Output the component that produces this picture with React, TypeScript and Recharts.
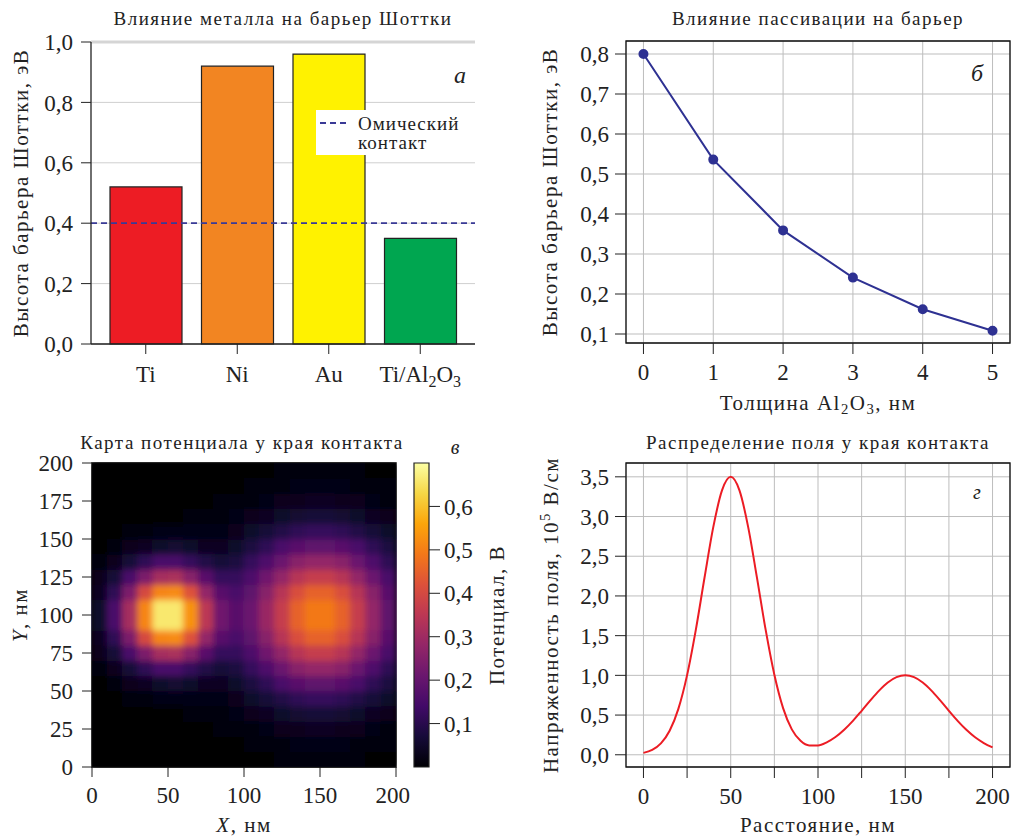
import React from "react";
import {
  BarChart,
  Bar,
  Cell,
  XAxis,
  YAxis,
  CartesianGrid,
  ReferenceLine,
  ReferenceArea,
  Legend,
  LineChart,
  Line,
  ScatterChart,
  Scatter,
} from "recharts";

const FONT = "Liberation Serif, DejaVu Serif, serif";
const INK = "#222";
const GRID = "#bdbdbd";

// а: влияние металла
const METALS = ["Ti", "Ni", "Au", "Ti/Al2O3"];
const BARRIER = [0.52, 0.92, 0.96, 0.35];
const METAL_COLORS = ["#ed1c24", "#f28522", "#fff200", "#00a650"];
const OHMIC_LEVEL = 0.4;
const BARRIER_TICKS = [0, 0.2, 0.4, 0.6, 0.8, 1.0];

// б: пассивация
const THICKNESS = [0, 1, 2, 3, 4, 5];
const PASSIVATED = [0.8, 0.536, 0.359, 0.241, 0.162, 0.108];
const PASS_TICKS = [0.1, 0.2, 0.3, 0.4, 0.5, 0.6, 0.7, 0.8];

// в: карта потенциала (центры ячеек 10 нм, строки снизу вверх)
const GRID_X = [5, 15, 25, 35, 45, 55, 65, 75, 85, 95, 105, 115, 125, 135, 145, 155, 165, 175, 185, 195];
const GRID_Y = [5, 15, 25, 35, 45, 55, 65, 75, 85, 95, 105, 115, 125, 135, 145, 155, 165, 175, 185, 195];
const POTENTIAL = [
  [0, 0, 0, 0, 0, 0, 0, 0, 0, 0, 0, 0, 0.01, 0.01, 0.01, 0.01, 0.01, 0.01, 0, 0],
  [0, 0, 0, 0, 0, 0, 0, 0, 0, 0, 0.01, 0.01, 0.01, 0.02, 0.02, 0.02, 0.02, 0.01, 0.01, 0.01],
  [0, 0, 0, 0, 0, 0, 0, 0, 0.01, 0.01, 0.01, 0.02, 0.03, 0.03, 0.04, 0.04, 0.03, 0.03, 0.02, 0.01],
  [0, 0, 0, 0, 0, 0, 0.01, 0.01, 0.01, 0.02, 0.03, 0.04, 0.05, 0.06, 0.07, 0.07, 0.06, 0.05, 0.04, 0.03],
  [0, 0, 0.01, 0.01, 0.02, 0.02, 0.02, 0.02, 0.02, 0.03, 0.05, 0.07, 0.09, 0.11, 0.12, 0.12, 0.11, 0.09, 0.07, 0.05],
  [0, 0.01, 0.03, 0.04, 0.05, 0.06, 0.05, 0.04, 0.04, 0.05, 0.08, 0.11, 0.15, 0.18, 0.19, 0.19, 0.18, 0.15, 0.11, 0.08],
  [0.01, 0.03, 0.07, 0.11, 0.15, 0.15, 0.12, 0.09, 0.07, 0.08, 0.12, 0.16, 0.21, 0.26, 0.28, 0.28, 0.26, 0.21, 0.16, 0.11],
  [0.03, 0.07, 0.15, 0.24, 0.31, 0.32, 0.26, 0.18, 0.12, 0.12, 0.16, 0.22, 0.28, 0.34, 0.37, 0.37, 0.34, 0.28, 0.21, 0.15],
  [0.04, 0.11, 0.24, 0.4, 0.51, 0.52, 0.42, 0.28, 0.18, 0.15, 0.19, 0.26, 0.34, 0.41, 0.45, 0.45, 0.41, 0.34, 0.26, 0.18],
  [0.05, 0.15, 0.31, 0.51, 0.66, 0.66, 0.53, 0.35, 0.22, 0.18, 0.21, 0.29, 0.37, 0.45, 0.49, 0.49, 0.45, 0.37, 0.28, 0.19],
  [0.05, 0.15, 0.31, 0.51, 0.66, 0.66, 0.53, 0.35, 0.22, 0.18, 0.21, 0.29, 0.37, 0.45, 0.49, 0.49, 0.45, 0.37, 0.28, 0.19],
  [0.04, 0.11, 0.24, 0.4, 0.51, 0.52, 0.42, 0.28, 0.18, 0.15, 0.19, 0.26, 0.34, 0.41, 0.45, 0.45, 0.41, 0.34, 0.26, 0.18],
  [0.03, 0.07, 0.15, 0.24, 0.31, 0.32, 0.26, 0.18, 0.12, 0.12, 0.16, 0.22, 0.28, 0.34, 0.37, 0.37, 0.34, 0.28, 0.21, 0.15],
  [0.01, 0.03, 0.07, 0.11, 0.15, 0.15, 0.12, 0.09, 0.07, 0.08, 0.12, 0.16, 0.21, 0.26, 0.28, 0.28, 0.26, 0.21, 0.16, 0.11],
  [0, 0.01, 0.03, 0.04, 0.05, 0.06, 0.05, 0.04, 0.04, 0.05, 0.08, 0.11, 0.15, 0.18, 0.19, 0.19, 0.18, 0.15, 0.11, 0.08],
  [0, 0, 0.01, 0.01, 0.02, 0.02, 0.02, 0.02, 0.02, 0.03, 0.05, 0.07, 0.09, 0.11, 0.12, 0.12, 0.11, 0.09, 0.07, 0.05],
  [0, 0, 0, 0, 0, 0, 0.01, 0.01, 0.01, 0.02, 0.03, 0.04, 0.05, 0.06, 0.07, 0.07, 0.06, 0.05, 0.04, 0.03],
  [0, 0, 0, 0, 0, 0, 0, 0, 0.01, 0.01, 0.01, 0.02, 0.03, 0.03, 0.04, 0.04, 0.03, 0.03, 0.02, 0.01],
  [0, 0, 0, 0, 0, 0, 0, 0, 0, 0, 0.01, 0.01, 0.01, 0.02, 0.02, 0.02, 0.02, 0.01, 0.01, 0.01],
  [0, 0, 0, 0, 0, 0, 0, 0, 0, 0, 0, 0, 0.01, 0.01, 0.01, 0.01, 0.01, 0.01, 0, 0],
];
const MAP_TICKS_X = [0, 50, 100, 150, 200];
const MAP_TICKS_Y = [0, 25, 50, 75, 100, 125, 150, 175, 200];
const POT_MAX = 0.7;
const POT_TICKS = [0.1, 0.2, 0.3, 0.4, 0.5, 0.6];

// г: распределение поля
const DISTANCE = [
  0, 5, 10, 15, 20, 25, 30, 35, 40, 45, 50, 55, 60, 65, 70, 75, 80, 85, 90, 95, 100,
  105, 110, 115, 120, 125, 130, 135, 140, 145, 150, 155, 160, 165, 170, 175, 180, 185, 190, 195, 200,
];
const FIELD = [
  0.024, 0.061, 0.143, 0.302, 0.578, 1.003, 1.573, 2.232, 2.866, 3.329, 3.5,
  3.329, 2.867, 2.233, 1.575, 1.008, 0.588, 0.32, 0.176, 0.118, 0.118,
  0.156, 0.223, 0.315, 0.427, 0.554, 0.685, 0.808, 0.91, 0.977, 1.0,
  0.977, 0.91, 0.808, 0.685, 0.554, 0.427, 0.314, 0.22, 0.148, 0.094,
];
const FIELD_TICKS_X = [0, 25, 50, 75, 100, 125, 150, 175, 200];
const FIELD_TICKS_Y = [0, 0.5, 1.0, 1.5, 2.0, 2.5, 3.0, 3.5];

const INFERNO = [
  "#000004", "#160b39", "#420a68", "#6a176e", "#932667", "#bc3754",
  "#dd513a", "#f37819", "#fca50a", "#f6d746", "#fcffa4",
];

function hexToRgb(h: string) {
  return [parseInt(h.slice(1, 3), 16), parseInt(h.slice(3, 5), 16), parseInt(h.slice(5, 7), 16)];
}

function inferno(v: number) {
  const t = Math.max(0, Math.min(1, v / POT_MAX)) * (INFERNO.length - 1);
  const i = Math.min(Math.floor(t), INFERNO.length - 2);
  const f = t - i;
  const a = hexToRgb(INFERNO[i]);
  const b = hexToRgb(INFERNO[i + 1]);
  const c = a.map((x, k) => Math.round(x + (b[k] - x) * f));
  return `rgb(${c[0]},${c[1]},${c[2]})`;
}

const comma = (d: number) => (v: number) => v.toFixed(d).replace(".", ",");

const tickStyle = { fontFamily: FONT, fontSize: 23, fill: INK };

const barData = METALS.map((m, i) => ({ name: m, value: BARRIER[i] }));
const passData = THICKNESS.map((t, i) => ({ t, phi: PASSIVATED[i] }));
const fieldData = DISTANCE.map((d, i) => ({ d, e: FIELD[i] }));
const mapData = POTENTIAL.flatMap((row, j) => row.map((v, i) => ({ x: GRID_X[i], y: GRID_Y[j], v })));

const MAP_W = 304;
const MAP_H = 304;
const CELL_W = MAP_W / GRID_X.length;
const CELL_H = MAP_H / GRID_Y.length;

function HeatCell(props: any) {
  const { cx, cy, payload } = props;
  return (
    <rect
      x={cx - CELL_W / 2 - 0.3}
      y={cy - CELL_H / 2 - 0.3}
      width={CELL_W + 0.6}
      height={CELL_H + 0.6}
      fill={inferno(payload.v)}
    />
  );
}

function MetalTick(props: any) {
  const { x, y, payload } = props;
  const v: string = payload.value;
  return (
    <text x={x} y={y} dy="0.71em" textAnchor="middle" {...tickStyle}>
      {v === "Ti/Al2O3" ? (
        <>
          <tspan>Ti/Al</tspan>
          <tspan fontSize={16} dy={5}>2</tspan>
          <tspan dy={-5}>O</tspan>
          <tspan fontSize={16} dy={5}>3</tspan>
        </>
      ) : (
        v
      )}
    </text>
  );
}

function OhmicLegend() {
  return (
    <div
      style={{
        background: "#fff",
        width: 152,
        height: 45,
        position: "relative",
        fontFamily: FONT,
        fontSize: 19,
        color: INK,
        letterSpacing: 1,
        lineHeight: "19px",
      }}
    >
      <svg width={40} height={20} style={{ position: "absolute", left: 2, top: 4 }}>
        <line x1={2} y1={9} x2={32} y2={9} stroke="#3a3a96" strokeWidth={1.8} strokeDasharray="6 4" />
      </svg>
      <div style={{ position: "absolute", left: 42, top: 4 }}>Омический</div>
      <div style={{ position: "absolute", left: 42, top: 23 }}>контакт</div>
    </div>
  );
}

function Txt(props: {
  x: number;
  y: number;
  size?: number;
  rotate?: boolean;
  italic?: boolean;
  spacing?: number;
  children: React.ReactNode;
}) {
  const { x, y, size = 19, rotate, italic, spacing = 1.5, children } = props;
  return (
    <div
      style={{
        position: "absolute",
        left: x,
        top: y,
        transform: `translate(-50%, -50%)${rotate ? " rotate(-90deg)" : ""}`,
        fontFamily: FONT,
        fontSize: size,
        fontStyle: italic ? "italic" : "normal",
        letterSpacing: spacing,
        color: INK,
        whiteSpace: "nowrap",
        lineHeight: 1,
      }}
    >
      {children}
    </div>
  );
}

const sub = { fontSize: "0.7em", verticalAlign: "-0.3em" } as React.CSSProperties;
const sup = { fontSize: "0.7em", verticalAlign: "0.5em" } as React.CSSProperties;

export default function App() {
  return (
    <div style={{ position: "absolute", left: 0, top: 0, width: 1015, height: 839, background: "#fff" }}>
      <style>{`.heatwrap .recharts-scatter { filter: url(#heatBlur); }`}</style>

      {/* а */}
      <div style={{ position: "absolute", left: 0, top: 0 }}>
        <BarChart width={500} height={420} data={barData} margin={{ top: 42, right: 25, bottom: 36, left: 31 }}>
          <CartesianGrid vertical={false} stroke="#cfcfcf" />
          <XAxis
            dataKey="name"
            padding={{ left: 9, right: 9 }}
            height={40}
            tick={<MetalTick />}
            tickSize={10}
            tickMargin={12}
            axisLine={{ stroke: INK, strokeWidth: 1.3 }}
            tickLine={{ stroke: INK }}
            interval={0}
          />
          <YAxis
            width={60}
            domain={[0, 1.0]}
            ticks={BARRIER_TICKS}
            tickFormatter={comma(1)}
            tick={tickStyle}
            tickSize={10}
            tickMargin={8}
            axisLine={{ stroke: INK, strokeWidth: 1.3 }}
            tickLine={{ stroke: INK }}
          />
          <YAxis yAxisId="right" orientation="right" width={0} tick={false} tickLine={false} axisLine={{ stroke: "#333" }} />
          <ReferenceLine y={1.0} stroke="#d5d5d5" strokeWidth={3} />
          <Bar dataKey="value" barSize={72} stroke={INK} strokeWidth={1.2} isAnimationActive={false}>
            {barData.map((d, i) => (
              <Cell key={d.name} fill={METAL_COLORS[i]} />
            ))}
          </Bar>
          <ReferenceLine y={OHMIC_LEVEL} stroke="#3a3a96" strokeWidth={1.8} strokeDasharray="6 4" />
          <Legend
            layout="horizontal"
            verticalAlign="middle"
            align="center"
            wrapperStyle={{ left: 316, top: 110, width: 152, height: 45 }}
            content={() => <OhmicLegend />}
          />
        </BarChart>
      </div>

      {/* б */}
      <div style={{ position: "absolute", left: 500, top: 0 }}>
        <LineChart width={515} height={420} data={passData} margin={{ top: 41, right: 5, bottom: 37, left: 56 }}>
          <CartesianGrid stroke={GRID} />
          <XAxis
            dataKey="t"
            type="number"
            domain={[-0.25, 5.25]}
            ticks={THICKNESS}
            height={40}
            tick={tickStyle}
            tickSize={11}
            tickMargin={10}
            axisLine={false}
            tickLine={{ stroke: INK }}
          />
          <YAxis
            width={70}
            domain={[0.0775, 0.8325]}
            ticks={PASS_TICKS}
            tickFormatter={comma(1)}
            tick={tickStyle}
            tickSize={11}
            tickMargin={6}
            axisLine={false}
            tickLine={{ stroke: INK }}
          />
          <ReferenceArea x1={-0.25} x2={5.25} y1={0.0775} y2={0.8325} fill="none" stroke="#111" strokeWidth={1.3} />
          <Line
            dataKey="phi"
            stroke="#2e3192"
            strokeWidth={2}
            dot={{ r: 4, fill: "#2e3192", stroke: "#2e3192" }}
            isAnimationActive={false}
          />
        </LineChart>
      </div>

      {/* в */}
      <div style={{ position: "absolute", left: 92, top: 463, width: MAP_W, height: MAP_H, background: "#000004" }} />
      <div className="heatwrap" style={{ position: "absolute", left: 0, top: 420 }}>
        <ScatterChart width={410} height={419} margin={{ top: 43, right: 14, bottom: 32, left: 32 }}>
          <defs>
            <filter id="heatBlur" filterUnits="objectBoundingBox" x="0" y="0" width="1" height="1">
              <feGaussianBlur stdDeviation="3.2" />
            </filter>
          </defs>
          <XAxis
            dataKey="x"
            type="number"
            domain={[0, 200]}
            ticks={MAP_TICKS_X}
            height={40}
            tick={tickStyle}
            tickSize={10}
            tickMargin={10}
            axisLine={false}
            tickLine={{ stroke: INK }}
          />
          <YAxis
            dataKey="y"
            type="number"
            domain={[0, 200]}
            ticks={MAP_TICKS_Y}
            width={60}
            tick={tickStyle}
            tickSize={10}
            tickMargin={9}
            axisLine={false}
            tickLine={{ stroke: INK }}
          />
          <Scatter data={mapData} shape={<HeatCell />} isAnimationActive={false} />
          <ReferenceArea x1={0} x2={200} y1={0} y2={200} fill="none" stroke="#111" strokeWidth={1.3} />
        </ScatterChart>
      </div>

      {/* цветовая шкала */}
      <div style={{ position: "absolute", left: 400, top: 420 }}>
        <BarChart
          width={100}
          height={419}
          data={[{ name: "cb", top: POT_MAX }]}
          margin={{ top: 43, right: 10, bottom: 72, left: 14 }}
          barCategoryGap={0}
        >
          <defs>
            <linearGradient id="infernoGrad" x1="0" y1="1" x2="0" y2="0">
              {INFERNO.map((c, i) => (
                <stop key={c} offset={i / (INFERNO.length - 1)} stopColor={c} />
              ))}
            </linearGradient>
          </defs>
          <XAxis dataKey="name" hide />
          <YAxis
            orientation="right"
            width={61}
            domain={[0, POT_MAX]}
            ticks={POT_TICKS}
            tickFormatter={comma(1)}
            tick={tickStyle}
            tickSize={11}
            tickMargin={4}
            axisLine={false}
            tickLine={{ stroke: INK }}
          />
          <Bar dataKey="top" fill="url(#infernoGrad)" stroke="#222" strokeWidth={1.2} isAnimationActive={false} />
        </BarChart>
      </div>

      {/* г */}
      <div style={{ position: "absolute", left: 500, top: 420 }}>
        <LineChart width={515} height={419} data={fieldData} margin={{ top: 43, right: 5, bottom: 32, left: 56 }}>
          <CartesianGrid stroke={GRID} />
          <XAxis
            dataKey="d"
            type="number"
            domain={[-10, 210]}
            ticks={FIELD_TICKS_X}
            tickFormatter={(v: number) => (v % 50 === 0 ? String(v) : "")}
            height={40}
            tick={tickStyle}
            tickSize={11}
            tickMargin={10}
            axisLine={false}
            tickLine={{ stroke: INK }}
          />
          <YAxis
            width={70}
            domain={[-0.154, 3.674]}
            ticks={FIELD_TICKS_Y}
            tickFormatter={comma(1)}
            tick={tickStyle}
            tickSize={11}
            tickMargin={6}
            axisLine={false}
            tickLine={{ stroke: INK }}
          />
          <ReferenceArea x1={-10} x2={210} y1={-0.154} y2={3.674} fill="none" stroke="#111" strokeWidth={1.3} />
          <Line dataKey="e" type="monotone" stroke="#ec1c24" strokeWidth={2} dot={false} isAnimationActive={false} />
        </LineChart>
      </div>

      {/* подписи */}
      <Txt x={283} y={18}>Влияние металла на барьер Шоттки</Txt>
      <Txt x={818} y={18}>Влияние пассивации на барьер</Txt>
      <Txt x={242} y={442}>Карта потенциала у края контакта</Txt>
      <Txt x={818} y={442}>Распределение поля у края контакта</Txt>

      <Txt x={21} y={193} size={21} rotate>Высота барьера Шоттки, эВ</Txt>
      <Txt x={550} y={192} size={21} rotate>Высота барьера Шоттки, эВ</Txt>
      <Txt x={818} y={405} size={21}>
        Толщина Al<span style={sub}>2</span>O<span style={sub}>3</span>, нм
      </Txt>

      <Txt x={20} y={615} size={21} rotate>
        <i>Y</i>, нм
      </Txt>
      <Txt x={244} y={825} size={21}>
        <i>X</i>, нм
      </Txt>
      <Txt x={497} y={615} size={21} rotate>Потенциал, В</Txt>

      <Txt x={550} y={615} size={21} rotate>
        Напряженность поля, 10<span style={sup}>5</span> В/см
      </Txt>
      <Txt x={818} y={825} size={21}>Расстояние, нм</Txt>

      <Txt x={460} y={75} size={24} italic spacing={0}>а</Txt>
      <Txt x={977} y={73} size={24} italic spacing={0}>б</Txt>
      <Txt x={455} y={447} size={20} italic spacing={0}>в</Txt>
      <Txt x={977} y={492} size={20} italic spacing={0}>г</Txt>
    </div>
  );
}
